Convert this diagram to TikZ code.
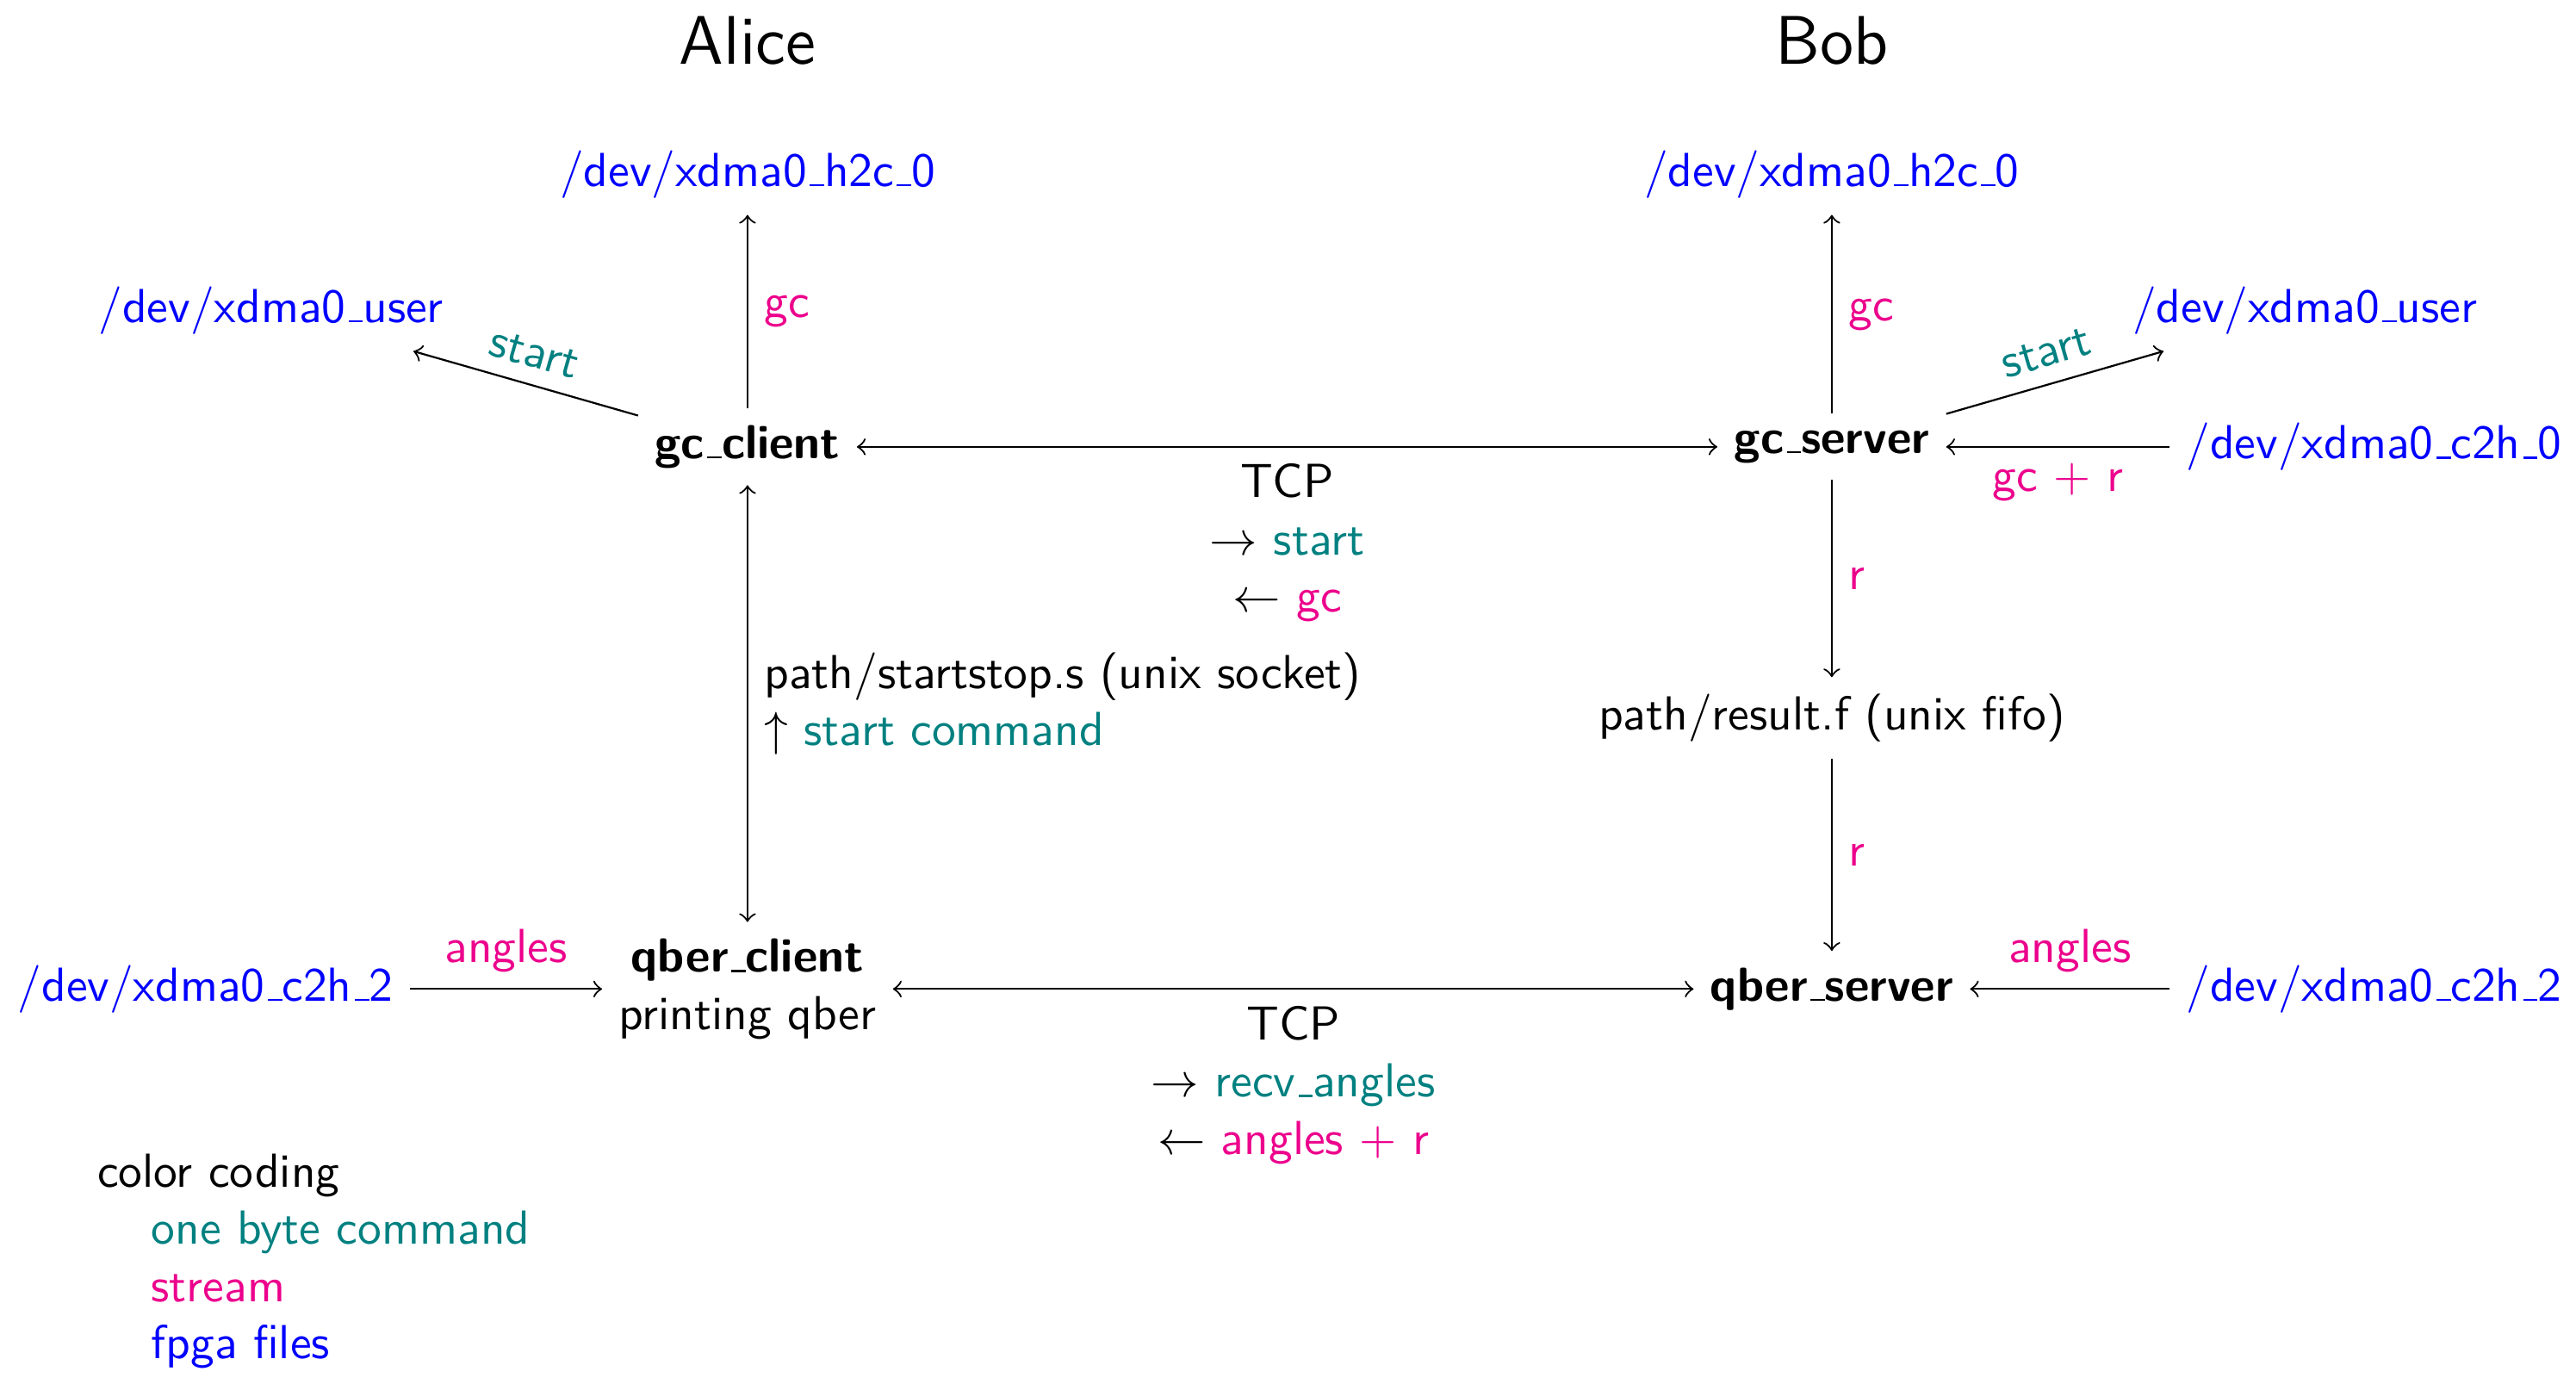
\documentclass[tikz,border=0pt]{standalone}
\usepackage{tikz}
\newcommand\us{\leavevmode\kern.06em\vbox{\hrule width.3em}}
\newcommand\ind{\hspace*{11.3pt}}
\begin{document}
\begin{tikzpicture}[x=0.3440pt,y=-0.3440pt,font=\sffamily,
  file/.style={text=blue},
  cmd/.style={text=teal},
  strm/.style={text=magenta},
  prog/.style={font=\sffamily\bfseries},
  conn/.style={->},
  biconn/.style={<->}]
\useasboundingbox (0,0) rectangle (1568,842);
\node (alice) at (455,25) {\Large Alice};
\node (bob) at (1115,25) {\Large Bob};
\node[file] (h2cA) at (455,106) {/dev/xdma0\us h2c\us 0};
\node[file] (h2cB) at (1115,106) {/dev/xdma0\us h2c\us 0};
\node[file] (userA) at (165,189) {/dev/xdma0\us user};
\node[file] (userB) at (1403,189) {/dev/xdma0\us user};
\node[prog] (gcc) at (455,272) {gc\us client};
\node[prog] (gcs) at (1115,272) {gc\us server};
\node[file] (c2h0) at (1445,272) {/dev/xdma0\us c2h\us 0};
\node (res) at (1115,437) {path/result.f (unix fifo)};
\node[align=center] (qc) at (455,602) {\textbf{qber\us client}\\printing qber};
\node[prog] (qs) at (1115,602) {qber\us server};
\node[file] (c2hA) at (125,602) {/dev/xdma0\us c2h\us 2};
\node[file] (c2hB) at (1445,602) {/dev/xdma0\us c2h\us 2};
\node[align=left,anchor=north west] (legend) at (49,692) {color coding\\
  \ind\textcolor{teal}{one byte command}\\
  \ind\textcolor{magenta}{stream}\\
  \ind\textcolor{blue}{fpga files}};

\draw[conn] (gcc) -- (h2cA) node[midway,right,strm] {gc};
\draw[conn] (gcs) -- (h2cB) node[midway,right,strm] {gc};
\draw[conn] (gcc) -- (userA) node[midway,sloped,above,cmd] {start};
\draw[conn] (gcs) -- (userB) node[midway,sloped,above,cmd] {start};
\draw[biconn] (gcc) -- (gcs) node[midway,below,align=center] {TCP\\
  $\rightarrow$ \textcolor{teal}{start}\\ $\leftarrow$ \textcolor{magenta}{gc}};
\draw[conn] (c2h0) -- (gcs) node[midway,below,strm] {gc $+$ r};
\draw[conn] (gcs) -- (res) node[midway,right,strm] {r};
\draw[conn] (res) -- (qs) node[midway,right,strm] {r};
\draw[biconn] (gcc) -- (qc) node[midway,right,align=left] {path/startstop.s (unix socket)\\
  $\uparrow$ \textcolor{teal}{start command}};
\draw[conn] (c2hA) -- (qc) node[midway,above,strm] {angles};
\draw[conn] (c2hB) -- (qs) node[midway,above,strm] {angles};
\draw[biconn] (qc) -- (qs) node[midway,below,align=center] {TCP\\
  $\rightarrow$ \textcolor{teal}{recv\us angles}\\ $\leftarrow$ \textcolor{magenta}{angles $+$ r}};
\end{tikzpicture}
\end{document}
